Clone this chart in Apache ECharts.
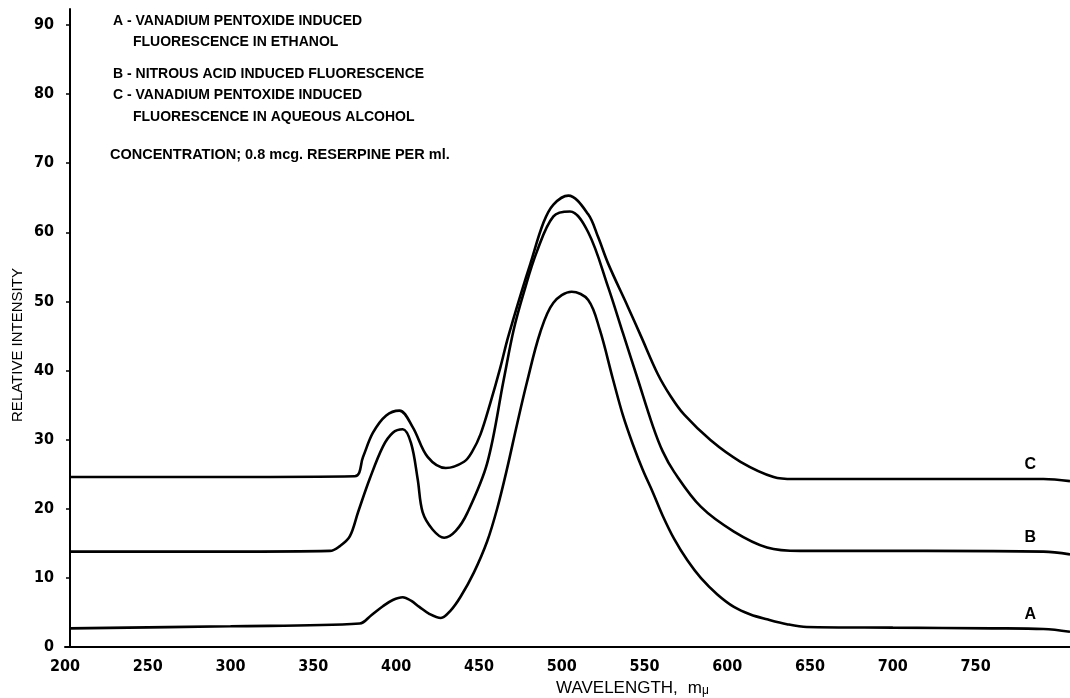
<!DOCTYPE html>
<html>
<head>
<meta charset="utf-8">
<script src="https://cdn.jsdelivr.net/npm/echarts@6.0.0/dist/echarts.min.js"></script>
<style>
html,body{margin:0;padding:0;background:#fff;}
#chart{width:1070px;height:698px;}
</style>
</head>
<body>
<div id="chart"></div>
<script>
// ---- data ----
const xTicks = [200, 250, 300, 350, 400, 450, 500, 550, 600, 650, 700, 750];
const yTicks = [0, 10, 20, 30, 40, 50, 60, 70, 80, 90];

const wlA = [203, 300, 378, 385, 392, 398, 404, 409, 414, 420, 427, 433, 439, 447, 455, 461, 467, 473, 479, 487, 495, 506, 516, 523, 531, 537, 543, 549, 555, 561, 568, 576, 584, 594, 604, 614, 624, 636, 648, 700, 760, 791, 807];
const relA = [2.7, 3.0, 3.4, 4.6, 5.9, 6.8, 7.2, 6.7, 5.8, 4.8, 4.2, 5.3, 7.3, 10.8, 15.3, 20.0, 25.8, 32.2, 38.3, 45.5, 49.8, 51.4, 50.2, 45.9, 38.7, 33.5, 29.3, 25.6, 22.4, 19.0, 15.6, 12.5, 10.0, 7.6, 5.8, 4.7, 4.0, 3.3, 2.9, 2.8, 2.7, 2.6, 2.2];

const wlB = [203, 300, 360, 366, 372, 377, 384, 392, 398, 404, 409, 413, 416, 422, 429, 436, 443, 455, 465, 471, 477, 485, 495, 505, 516, 528, 537, 546, 555, 561, 568, 584, 604, 624, 644, 720, 791, 807];
const relB = [13.8, 13.8, 13.9, 14.6, 16.0, 19.5, 24.3, 29.0, 31.0, 31.5, 29.5, 24.3, 19.5, 17.0, 15.8, 16.8, 19.4, 26.6, 38.7, 45.9, 51.2, 57.2, 62.3, 63.0, 60.0, 52.1, 45.4, 38.7, 32.0, 28.3, 25.3, 20.3, 16.7, 14.4, 13.9, 13.9, 13.8, 13.4];

const wlC = [203, 300, 375, 380, 386, 394, 402, 410, 419, 430, 441, 446, 451, 457, 463, 467, 471, 476, 481, 489, 495, 504, 516, 522, 528, 540, 548, 558, 566, 574, 590, 608, 628, 640, 720, 791, 807];
const relC = [24.6, 24.6, 24.7, 27.5, 31.0, 33.5, 34.2, 31.8, 27.5, 25.9, 26.8, 28.3, 30.8, 35.4, 40.5, 44.3, 47.6, 51.6, 55.4, 61.4, 64.0, 65.3, 62.6, 59.3, 55.5, 49.2, 44.9, 39.5, 36.2, 33.6, 29.9, 26.8, 24.6, 24.3, 24.3, 24.3, 24.0];

const seriesNames = ['A', 'B', 'C'];
const legendLines = [
  'A - VANADIUM PENTOXIDE INDUCED',
  'FLUORESCENCE IN ETHANOL',
  'B - NITROUS ACID INDUCED FLUORESCENCE',
  'C - VANADIUM PENTOXIDE INDUCED',
  'FLUORESCENCE IN AQUEOUS ALCOHOL'
];
const noteText = 'CONCENTRATION; 0.8 mcg. RESERPINE PER ml.';
const xName = 'WAVELENGTH,';
const yName = 'RELATIVE INTENSITY';
const labelAt = 783; // wavelength at which curve letters are written

// ---- chart ----
const zip = (xs, ys) => xs.map((x, i) => [x, ys[i]]);
const dataSets = [zip(wlA, relA), zip(wlB, relB), zip(wlC, relC)];

const tickFont = "'Liberation Sans Narrow','DejaVu Sans Condensed','Liberation Sans',sans-serif";
const textFont = "'Liberation Sans','Arial',sans-serif";

const chart = echarts.init(document.getElementById('chart'), null, {renderer: 'canvas'});

const option = {
  backgroundColor: '#ffffff',
  animation: false,
  grid: {left: 65, right: 0, top: 9, bottom: 51, containLabel: false},
  xAxis: {
    type: 'value', min: 200, max: 807, interval: 50,
    axisLine: {show: true, onZero: false, lineStyle: {color: '#000', width: 2}},
    axisTick: {show: false},
    splitLine: {show: false},
    axisLabel: {
      customValues: xTicks, margin: 12, color: '#000',
      fontFamily: tickFont, fontWeight: 'bold', fontSize: 16
    }
  },
  yAxis: {
    type: 'value', min: 0, max: 92.3, interval: 10, offset: -5,
    axisLine: {show: true, lineStyle: {color: '#000', width: 2}},
    axisTick: {show: true, customValues: yTicks, length: 4, lineStyle: {color: '#000', width: 1.5}},
    splitLine: {show: false},
    axisLabel: {
      customValues: yTicks, margin: 16, color: '#000',
      fontFamily: tickFont, fontWeight: 'bold', fontSize: 16
    }
  },
  series: dataSets.map((d, i) => ({
    name: seriesNames[i],
    type: 'line',
    data: d,
    showSymbol: false,
    smooth: 0.35,
    lineStyle: {color: '#000', width: 2.6},
    z: 3
  }))
};
chart.setOption(option);

// interpolate a series at a wavelength
function valueAt(d, x) {
  for (let i = 1; i < d.length; i++) {
    if (d[i][0] >= x) {
      const t = (x - d[i-1][0]) / (d[i][0] - d[i-1][0]);
      return d[i-1][1] + t * (d[i][1] - d[i-1][1]);
    }
  }
  return d[d.length-1][1];
}

const graphics = [];
// legend block
const legendX = [113, 133, 113, 113, 133];
const legendY = [22, 43, 75, 96, 118];
legendLines.forEach((t, i) => {
  graphics.push({
    type: 'text', left: legendX[i], top: legendY[i] - 8,
    style: {text: t, fill: '#000', font: "bold 14px " + textFont}
  });
});
graphics.push({
  type: 'text', left: 110, top: 155 - 8,
  style: {text: noteText, fill: '#000', font: "bold 14.5px " + textFont}
});
// y axis name
graphics.push({
  type: 'text', x: 18, y: 345, rotation: Math.PI / 2,
  style: {text: yName, fill: '#000', font: "15px " + textFont, align: 'center', verticalAlign: 'middle'}
});
// x axis name
graphics.push({
  type: 'text', x: 556, y: 688,
  style: {
    text: '{a|' + xName + '}   {a|m}{b|\u03bc}',
    rich: {
      a: {fontFamily: textFont, fontSize: 17, color: '#000'},
      b: {fontFamily: textFont, fontSize: 12, color: '#000', padding: [6, 0, 0, 0]}
    },
    verticalAlign: 'middle'
  }
});
// curve letters
dataSets.forEach((d, i) => {
  const p = chart.convertToPixel({xAxisIndex: 0, yAxisIndex: 0}, [labelAt, valueAt(d, labelAt)]);
  graphics.push({
    type: 'text', x: p[0], y: p[1] - 14,
    style: {text: seriesNames[i], fill: '#000', font: "bold 16px " + textFont, align: 'center', verticalAlign: 'middle'}
  });
});
chart.setOption({graphic: graphics});
</script>
</body>
</html>
